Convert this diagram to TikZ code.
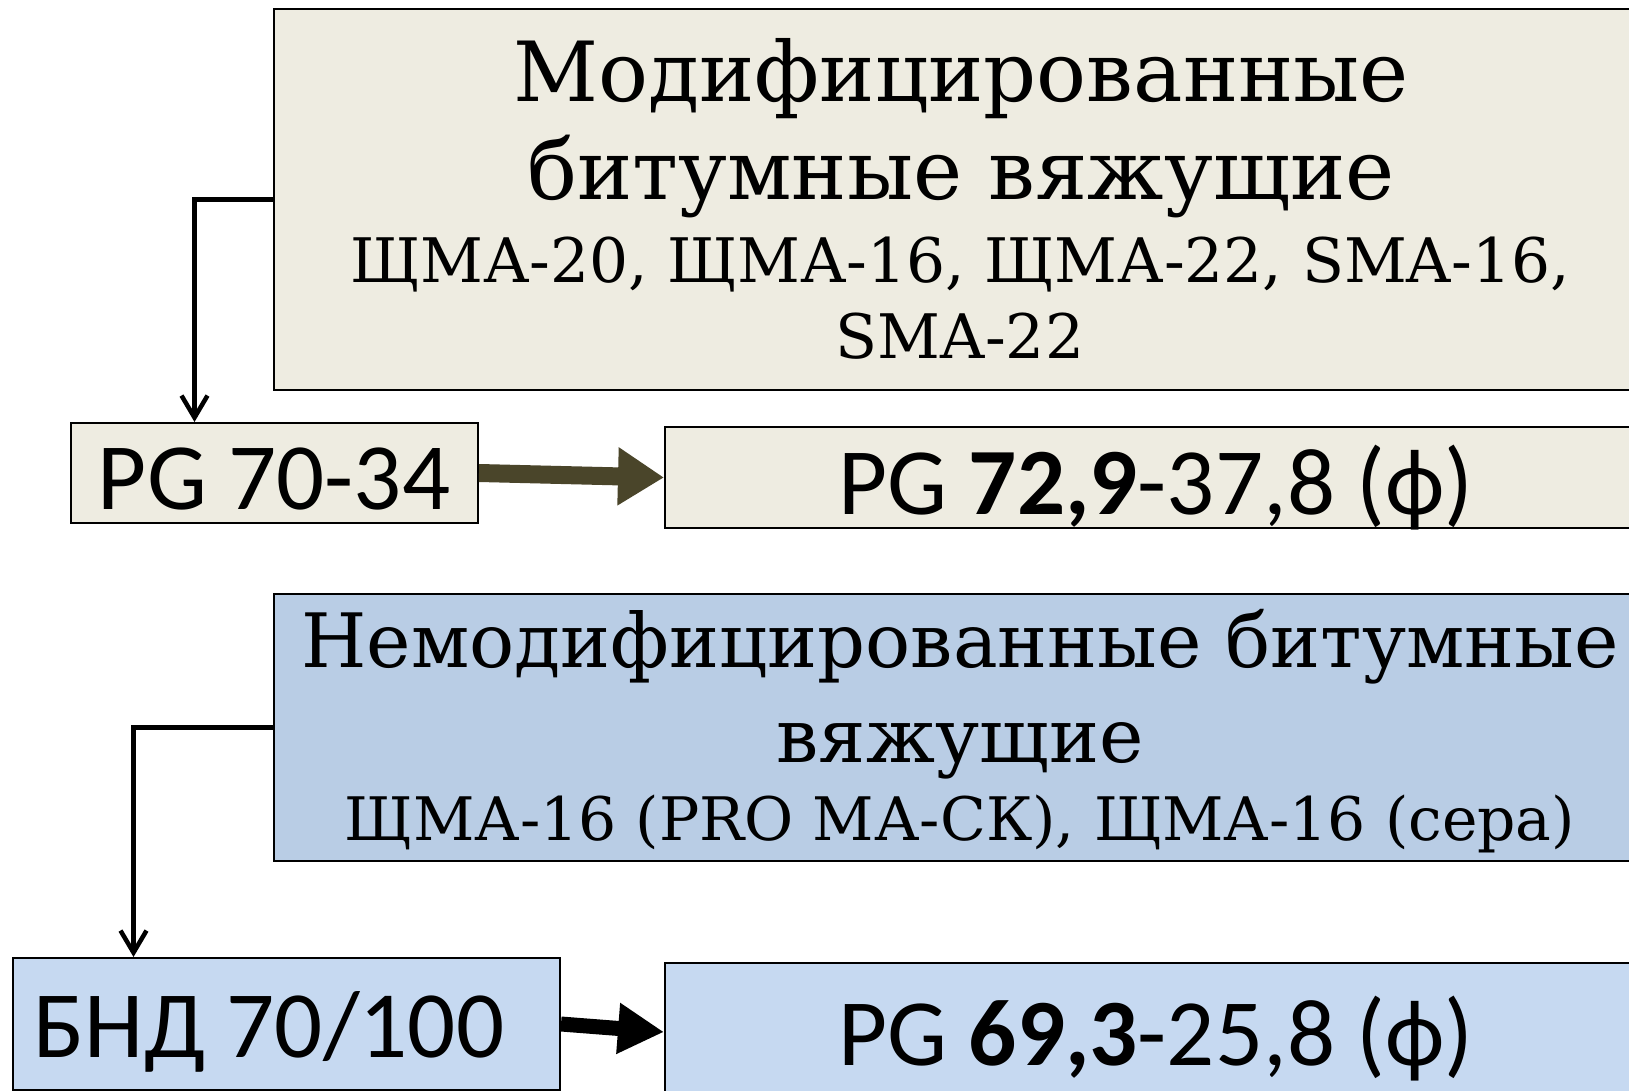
\documentclass[tikz,border=0pt]{standalone}
\usepackage{fontspec}
\setmainfont{DejaVu Serif}
\newfontfamily\carl{Carlito}
\usetikzlibrary{arrows.meta}
\definecolor{beigeC}{HTML}{EEECE1}
\definecolor{blueA}{HTML}{B9CDE5}
\definecolor{blueB}{HTML}{C6D9F1}
\definecolor{oliveC}{HTML}{4A452A}
\begin{document}
\begin{tikzpicture}[x=1pt,y=-1pt,
  box/.style={draw=black, line width=2pt, inner sep=0pt, anchor=north west},
  conn/.style={line width=5pt, -{Straight Barb[length=22pt,width=26pt,line width=4.5pt]}},
  serifbig/.style={anchor=base, inner sep=0pt, font=\fontsize{83}{96}\selectfont},
  sans/.style={anchor=base, inner sep=0pt, font=\carl\fontsize{95}{110}\selectfont}]
\useasboundingbox (0,0) rectangle (1629,1091);
\clip (0,0) rectangle (1629,1091);
\fill[white] (0,0) rectangle (1629,1091);
% boxes
\node[box, fill=beigeC, minimum width=1376pt, minimum height=381pt] (mod) at (273,8) {};
\node[box, fill=beigeC, minimum width=407pt, minimum height=100pt] (pga) at (70,422) {};
\node[box, fill=beigeC, minimum width=985pt, minimum height=101pt] (pgb) at (664,426) {};
\node[box, fill=blueA, minimum width=1374pt, minimum height=267pt] (nem) at (273,593) {};
\node[box, fill=blueB, minimum width=547pt, minimum height=132pt] (bnd) at (12,957) {};
\node[box, fill=blueB, minimum width=985pt, minimum height=138pt] (pgc) at (664,962) {};
% texts
\node[serifbig] (t1) at (961,102) {Модифицированные};
\node[serifbig] (t2) at (961,200) {битумные вяжущие};
\node[anchor=base, inner sep=0pt, font=\fontsize{61.4}{72}\selectfont] (t3) at (960,283) {ЩМА-20, ЩМА-16, ЩМА-22, SMA-16,};
\node[anchor=base, inner sep=0pt, font=\fontsize{61.4}{72}\selectfont] (t4) at (960,358) {SMA-22};
\node[sans] (ta) at (274,509) {PG 70-34};
\node[sans] (tb) at (1156,514) {PG \textbf{72,9}-37,8 (ф)};
\node[anchor=base, inner sep=0pt, font=\fontsize{75}{86}\selectfont] (n1) at (960,667) {Немодифицированные битумные};
\node[anchor=base, inner sep=0pt, font=\fontsize{75}{86}\selectfont] (n2) at (960,762) {вяжущие};
\node[anchor=base, inner sep=0pt, font=\fontsize{60}{72}\selectfont] (n3) at (960,840) {ЩМА-16 (PRO МА-СК), ЩМА-16 (сера)};
\node[sans] (tc) at (269,1057) {БНД 70/100};
\node[sans] (td) at (1156,1065) {PG \textbf{69,3}-25,8 (ф)};
% connectors
\draw[conn] (mod.west) -| ([xshift=-80pt]pga.north);
\draw[conn] (nem.west) -| ([xshift=-153pt]bnd.north);
\draw[line width=18pt, oliveC, -{Triangle[length=46pt,width=55pt]}] (pga.east) -- (pgb.west);
\draw[line width=15pt, black, -{Triangle[length=46pt,width=48pt]}] (bnd.east) -- (pgc.west);
\end{tikzpicture}
\end{document}
